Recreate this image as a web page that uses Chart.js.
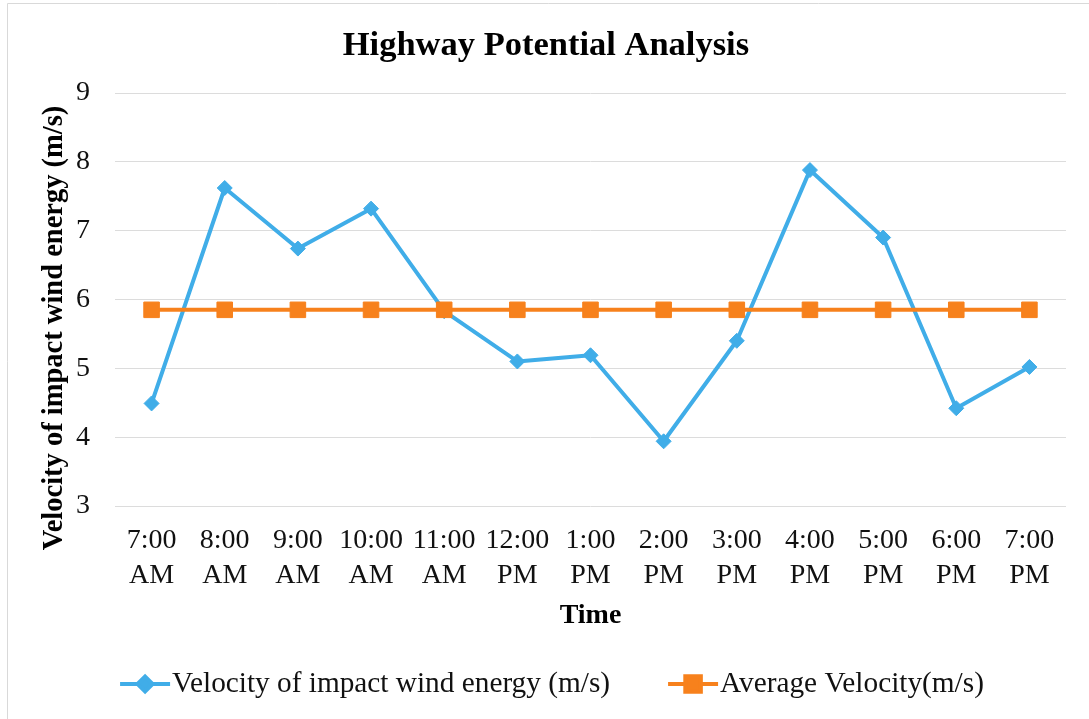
<!DOCTYPE html>
<html>
<head>
<meta charset="utf-8">
<title>Highway Potential Analysis</title>
<script src="https://cdn.jsdelivr.net/npm/chart.js@4.4.1/dist/chart.umd.min.js"></script>
<style>
  html, body { margin: 0; padding: 0; background: #ffffff; }
  #wrap { position: relative; width: 1089px; height: 719px; }
  canvas { display: block; }
</style>
</head>
<body>
<div id="wrap"><canvas id="chart" width="1089" height="719"></canvas></div>
<script>
// Hourly readings along the highway
const timeLabels = ['7:00 AM', '8:00 AM', '9:00 AM', '10:00 AM', '11:00 AM', '12:00 PM', '1:00 PM',
                    '2:00 PM', '3:00 PM', '4:00 PM', '5:00 PM', '6:00 PM', '7:00 PM'];
const windVelocity = [4.49, 7.62, 6.74, 7.32, 5.83, 5.10, 5.19, 3.94, 5.40, 7.88, 6.90, 4.42, 5.02];
const averageVelocity = [5.85, 5.85, 5.85, 5.85, 5.85, 5.85, 5.85, 5.85, 5.85, 5.85, 5.85, 5.85, 5.85];
const yTicks = [3, 4, 5, 6, 7, 8, 9];

const seriesNames = ['Velocity of impact wind energy (m/s)', 'Average Velocity(m/s)'];
const BLUE = '#40ADE8';
const ORANGE = '#F7811C';
const SERIF = "'Liberation Serif', 'Times New Roman', serif";

// Light frame along the top and left edges
const framePlugin = {
  id: 'frame',
  beforeDraw(chart) {
    const ctx = chart.ctx;
    ctx.save();
    ctx.strokeStyle = '#D9D9D9';
    ctx.lineWidth = 1;
    ctx.beginPath();
    ctx.moveTo(7.5, 719);
    ctx.lineTo(7.5, 3.5);
    ctx.lineTo(1089, 3.5);
    ctx.stroke();
    ctx.restore();
  }
};

// Legend with a line segment and marker in front of each series name
const lineLegendPlugin = {
  id: 'lineLegend',
  afterDraw(chart) {
    const ctx = chart.ctx;
    const y = 684;
    const sampleW = 50, textGap = 2, itemGap = 58;
    ctx.save();
    ctx.font = '29.3px ' + SERIF;
    ctx.textBaseline = 'middle';
    const items = chart.data.datasets.map(ds => ({ ds, w: ctx.measureText(ds.label).width }));
    const total = items.reduce((s, it) => s + sampleW + textGap + it.w, 0) + itemGap * (items.length - 1);
    let x = 552 - total / 2;
    items.forEach(({ ds, w }) => {
      ctx.strokeStyle = ds.borderColor;
      ctx.lineWidth = ds.borderWidth;
      ctx.beginPath();
      ctx.moveTo(x, y);
      ctx.lineTo(x + sampleW, y);
      ctx.stroke();
      ctx.fillStyle = ds.pointBackgroundColor;
      ctx.strokeStyle = ds.pointBorderColor;
      Chart.helpers.drawPoint(ctx, {
        pointStyle: ds.pointStyle,
        radius: ds.pointRadius,
        rotation: 0,
        borderWidth: ds.pointBorderWidth
      }, x + sampleW / 2, y);
      ctx.fillStyle = '#111111';
      ctx.textAlign = 'left';
      ctx.fillText(ds.label, x + sampleW + textGap, y);
      x += sampleW + textGap + w + itemGap;
    });
    ctx.restore();
  }
};

new Chart(document.getElementById('chart'), {
  type: 'line',
  data: {
    labels: timeLabels.map(t => t.split(' ')),
    datasets: [
      {
        label: seriesNames[0],
        data: windVelocity,
        borderColor: BLUE,
        backgroundColor: BLUE,
        borderWidth: 4,
        borderJoinStyle: 'round',
        borderCapStyle: 'round',
        pointStyle: 'rectRot',
        pointRadius: 7.5,
        pointBorderWidth: 1,
        pointBackgroundColor: BLUE,
        pointBorderColor: BLUE,
        tension: 0,
        order: 1
      },
      {
        label: seriesNames[1],
        data: averageVelocity,
        borderColor: ORANGE,
        backgroundColor: ORANGE,
        borderWidth: 4,
        pointStyle: 'rect',
        pointRadius: 11,
        pointBorderWidth: 1,
        pointBackgroundColor: ORANGE,
        pointBorderColor: ORANGE,
        tension: 0,
        order: 0
      }
    ]
  },
  options: {
    responsive: false,
    animation: false,
    events: [],
    layout: { padding: { left: 0, right: 23, top: 0, bottom: 80 } },
    plugins: {
      legend: { display: false },
      tooltip: { enabled: false },
      title: {
        display: true,
        text: '\u2002 Highway Potential Analysis',
        color: '#000000',
        font: { family: SERIF, size: 34.5, weight: 'bold', lineHeight: 1.2 },
        padding: { top: 25, bottom: 26.6 }
      }
    },
    scales: {
      x: {
        type: 'category',
        offset: true,
        grid: { display: false, drawTicks: false },
        border: { display: false },
        ticks: {
          color: '#111111',
          font: { family: SERIF, size: 28, lineHeight: 1.22 },
          padding: 18,
          maxRotation: 0,
          autoSkip: false
        },
        title: {
          display: true,
          text: 'Time',
          color: '#000000',
          font: { family: SERIF, size: 28, weight: 'bold', lineHeight: 1.2 },
          padding: { top: 0, bottom: 6 }
        },
        afterFit(scale) { scale.height = 133; }
      },
      y: {
        min: yTicks[0],
        max: yTicks[yTicks.length - 1],
        afterBuildTicks(scale) { scale.ticks = yTicks.map(v => ({ value: v })); },
        grid: { color: '#DCDCDC', lineWidth: 1, drawTicks: false },
        border: { display: false },
        ticks: {
          color: '#111111',
          font: { family: SERIF, size: 28 },
          padding: 25
        },
        title: {
          display: true,
          text: 'Velocity of impact wind energy (m/s)\u2002\u2002\u2002\u2002',
          color: '#000000',
          font: { family: SERIF, size: 28.5, weight: 'bold', lineHeight: 1.2 },
          padding: { top: 38, bottom: 0 }
        },
        afterFit(scale) { scale.width = 115; }
      }
    }
  },
  plugins: [framePlugin, lineLegendPlugin]
});
</script>
</body>
</html>
